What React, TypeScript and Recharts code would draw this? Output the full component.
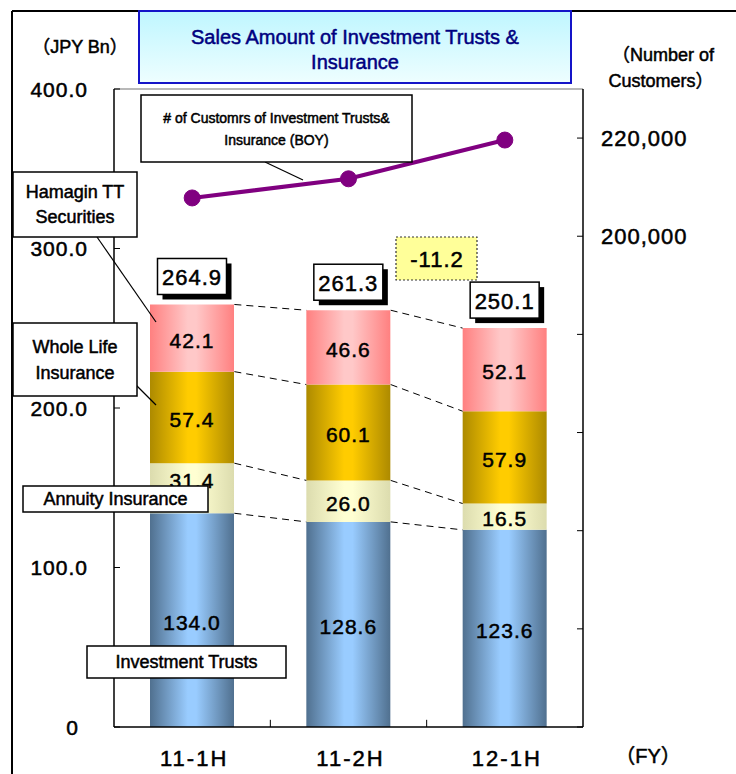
import React from "react";
import {
  ComposedChart,
  Bar,
  Line,
  XAxis,
  YAxis,
  LabelList,
  ReferenceLine,
} from "recharts";

const periods = ["11-1H", "11-2H", "12-1H"];
const investmentTrusts = [134.0, 128.6, 123.6];
const annuityInsurance = [31.4, 26.0, 16.5];
const wholeLifeInsurance = [57.4, 60.1, 57.9];
const hamaginTT = [42.1, 46.6, 52.1];
const customers = [207800, 211700, 219600];

const leftTicks = [0, 100, 200, 300, 400];
const rightTicks = [100000, 120000, 140000, 160000, 180000, 200000, 220000];
const rightLabelled = [200000, 220000];

const FONT = "'Liberation Sans', Arial, 'Noto Sans CJK JP', sans-serif";
const W = 736;
const H = 774;

// label nudges (px) so the first annuity label peeks out above its callout box
const annuityLabelShift = [-10, 0, 0];

const segments = [
  { key: "it", values: investmentTrusts, grad: "gIT", edge: "#50708f", mid: "#99ccff", shift: [0, 0, 0] },
  { key: "ann", values: annuityInsurance, grad: "gAnn", edge: "#dcdcae", mid: "#ffffd2", shift: annuityLabelShift },
  { key: "wl", values: wholeLifeInsurance, grad: "gWL", edge: "#ad8a00", mid: "#ffcc00", shift: [0, 0, 0] },
  { key: "tt", values: hamaginTT, grad: "gTT", edge: "#ff8080", mid: "#ffc8c8", shift: [0, 0, 0] },
];

const data = periods.map((period, i) => {
  const row: any = { period, customers: customers[i] };
  let total = 0;
  segments.forEach((s) => {
    row[s.key] = s.values[i];
    total += s.values[i];
  });
  row.total = Math.round(total * 10) / 10;
  return row;
});

// cumulative heights at each segment boundary, for the dashed connectors
const cumAt = (i: number, b: number) =>
  segments.slice(0, b).reduce((a, s) => a + s.values[i], 0);

const BAR_SIZE = 84;
const halfBar = 0.27; // half of bar width in category units

const connectors = [1, 2, 3, 4].map((b) => [
  { x: 0 + halfBar, y: cumAt(0, b) },
  { x: 1 - halfBar, y: cumAt(1, b) },
  { x: 1, y: null },
  { x: 1 + halfBar, y: cumAt(1, b) },
  { x: 2 - halfBar, y: cumAt(2, b) },
]);

const change = (data[2].total - data[1].total).toFixed(1);

const boldText = { stroke: "currentColor", strokeWidth: 0.5 } as const;

const LeftTick = (props: any) => {
  const { x, y, payload } = props;
  const v = payload.value;
  return (
    <g>
      <line x1={x} x2={x + 6} y1={y} y2={y} stroke="#000" />
      <text
        x={v === 0 ? x - 35 : x - 26}
        y={y}
        textAnchor="end"
        dominantBaseline="central"
        fontSize={21}
        fontFamily={FONT}
        fill="#000"
        color="#000"
        letterSpacing={1}
        {...boldText}
      >
        {v === 0 ? "0" : v.toFixed(1)}
      </text>
    </g>
  );
};

const RightTick = (props: any) => {
  const { x, y, payload } = props;
  const v = payload.value;
  return (
    <g>
      <line x1={x - 6} x2={x} y1={y} y2={y} stroke="#000" />
      {rightLabelled.includes(v) && (
        <text
          x={x + 18}
          y={y}
          dominantBaseline="central"
          fontSize={22}
          fontFamily={FONT}
          fill="#000"
          color="#000"
          letterSpacing={1}
          {...boldText}
        >
          {v.toLocaleString("en-US")}
        </text>
      )}
    </g>
  );
};

const CatTick = (props: any) => {
  const { x, y, payload } = props;
  return (
    <text
      x={x + 2}
      y={y + 23}
      textAnchor="middle"
      dominantBaseline="central"
      fontSize={22}
      fontFamily={FONT}
      fill="#000"
      color="#000"
      letterSpacing={2}
      {...boldText}
    >
      {payload.value}
    </text>
  );
};

const makeValueLabel = (shift: number[]) => (props: any) => {
  const vb = props.viewBox || props;
  const { x, y, width, height } = vb;
  const dy = shift[props.index] || 0;
  return (
    <text
      x={x + width / 2}
      y={y + height / 2 + 2 + dy}
      textAnchor="middle"
      dominantBaseline="central"
      fontSize={21}
      fontFamily={FONT}
      fill="#000"
      color="#000"
      letterSpacing={1}
      {...boldText}
    >
      {Number(props.value).toFixed(1)}
    </text>
  );
};

const TotalBox = (props: any) => {
  const vb = props.viewBox || props;
  const { x, y, width } = vb;
  const cx = x + width / 2;
  const bw = 69;
  const bh = 36;
  const top = y - 10 - bh;
  return (
    <g>
      <rect x={cx - bw / 2 + 5} y={top + 5} width={bw} height={bh} fill="#000" />
      <rect x={cx - bw / 2} y={top} width={bw} height={bh} fill="#fff" stroke="#000" strokeWidth={1.5} />
      <text
        x={cx}
        y={top + bh / 2 + 1}
        textAnchor="middle"
        dominantBaseline="central"
        fontSize={22}
        fontFamily={FONT}
        fill="#000"
        color="#000"
        letterSpacing={1}
        {...boldText}
      >
        {Number(props.value).toFixed(1)}
      </text>
    </g>
  );
};

const Callout = ({
  x,
  y,
  w,
  h,
  lines,
  size = 18,
  lineGap = 25,
}: {
  x: number;
  y: number;
  w: number;
  h: number;
  lines: string[];
  size?: number;
  lineGap?: number;
}) => {
  const cy = y + h / 2 - ((lines.length - 1) * lineGap) / 2;
  return (
    <g>
      <rect x={x} y={y} width={w} height={h} fill="#fff" stroke="#000" strokeWidth={1.5} />
      {lines.map((t, i) => (
        <text
          key={i}
          x={x + w / 2}
          y={cy + i * lineGap}
          textAnchor="middle"
          dominantBaseline="central"
          fontSize={size}
          fontFamily={FONT}
          fill="#000"
          color="#000"
          {...boldText}
        >
          {t}
        </text>
      ))}
    </g>
  );
};

export default function App() {
  return (
    <div style={{ position: "absolute", left: 0, top: 0, width: W, height: H, background: "#fff" }}>
      <ComposedChart
        width={W}
        height={H}
        data={data}
        margin={{ top: 89, right: 0, bottom: 0, left: 0 }}
      >
        <defs>
          {segments.map((s) => (
            <linearGradient key={s.grad} id={s.grad} x1="0" y1="0" x2="1" y2="0">
              <stop offset="0%" stopColor={s.edge} />
              <stop offset="45%" stopColor={s.mid} />
              <stop offset="55%" stopColor={s.mid} />
              <stop offset="100%" stopColor={s.edge} />
            </linearGradient>
          ))}
        </defs>

        <XAxis
          xAxisId="cat"
          dataKey="period"
          height={47}
          tick={<CatTick />}
          tickLine={false}
          axisLine={{ stroke: "#000", strokeWidth: 1.5 }}
        />
        <XAxis
          xAxisId="num"
          dataKey="x"
          type="number"
          domain={[-0.5, 2.5]}
          allowDataOverflow
          hide
        />
        <YAxis
          yAxisId="left"
          width={114}
          domain={[0, 400]}
          ticks={leftTicks}
          tickSize={0}
          tickMargin={0}
          tick={<LeftTick />}
          axisLine={{ stroke: "#000", strokeWidth: 1.5 }}
        />
        <YAxis
          yAxisId="right"
          orientation="right"
          width={153}
          domain={[100000, 230000]}
          ticks={rightTicks}
          tickSize={0}
          tickMargin={0}
          tick={<RightTick />}
          axisLine={{ stroke: "#000", strokeWidth: 1.5 }}
        />

        <ReferenceLine xAxisId="cat" yAxisId="left" y={400} stroke="#a0a0a0" strokeWidth={1.5} />
        {[0.5, 1.5].map((v) => (
          <ReferenceLine
            key={v}
            xAxisId="num"
            yAxisId="left"
            segment={[
              { x: v, y: 0 },
              { x: v, y: 4.5 },
            ]}
            stroke="#000"
          />
        ))}

        {segments.map((s, idx) => {
          const ValueLabel = makeValueLabel(s.shift);
          return (
            <Bar
              key={s.key}
              xAxisId="cat"
              yAxisId="left"
              dataKey={s.key}
              stackId="sales"
              barSize={BAR_SIZE}
              fill={`url(#${s.grad})`}
              isAnimationActive={false}
            >
              <LabelList dataKey={s.key} content={(p: any) => <ValueLabel {...p} />} />
              {idx === segments.length - 1 && <LabelList dataKey="total" content={<TotalBox />} />}
            </Bar>
          );
        })}

        {connectors.map((c, i) => (
          <Line
            key={i}
            xAxisId="num"
            yAxisId="left"
            data={c}
            dataKey="y"
            stroke="#000"
            strokeWidth={1}
            strokeDasharray="7 5"
            dot={false}
            activeDot={false}
            connectNulls={false}
            isAnimationActive={false}
          />
        ))}

        <Line
          xAxisId="cat"
          yAxisId="right"
          dataKey="customers"
          stroke="#800080"
          strokeWidth={4}
          dot={{ r: 8, fill: "#800080", stroke: "#800080", strokeWidth: 1 }}
          activeDot={false}
          isAnimationActive={false}
        />
      </ComposedChart>

      <svg
        width={W}
        height={H}
        style={{ position: "absolute", left: 0, top: 0, pointerEvents: "none" }}
      >
        <defs>
          <linearGradient id="titleGrad" x1="0" y1="0" x2="0" y2="1">
            <stop offset="0%" stopColor="#bff6ff" />
            <stop offset="100%" stopColor="#eefeff" />
          </linearGradient>
        </defs>
        {/* outer frame */}
        <line x1={12} y1={11} x2={W} y2={11} stroke="#000" strokeWidth={2} />
        <line x1={12} y1={11} x2={12} y2={H} stroke="#000" strokeWidth={2} />

        {/* title */}
        <rect x={139} y={11} width={432} height={72} fill="url(#titleGrad)" stroke="#1414c8" strokeWidth={2} />
        {["Sales Amount of Investment Trusts &", "Insurance"].map((t, i) => (
          <text
            key={t}
            x={355}
            y={37 + i * 25}
            textAnchor="middle"
            dominantBaseline="central"
            fontSize={20}
            fontFamily={FONT}
            fill="#000080"
            color="#000080"
            {...boldText}
          >
            {t}
          </text>
        ))}

        {/* axis titles */}
        <text x={80} y={47} textAnchor="middle" dominantBaseline="central" fontSize={18} fontFamily={FONT} fill="#000" color="#000" {...boldText}>
          （JPY Bn）
        </text>
        <text x={663} y={55} textAnchor="middle" dominantBaseline="central" fontSize={18} fontFamily={FONT} fill="#000" color="#000" {...boldText}>
          （Number of
        </text>
        <text x={661} y={81} textAnchor="middle" dominantBaseline="central" fontSize={18} fontFamily={FONT} fill="#000" color="#000" {...boldText}>
          Customers）
        </text>
        <text x={648} y={756} textAnchor="middle" dominantBaseline="central" fontSize={20} fontFamily={FONT} fill="#000" color="#000" {...boldText}>
          （FY）
        </text>

        {/* leader lines */}
        <line x1={265} y1={162} x2={303} y2={180} stroke="#000" strokeWidth={1.2} />
        <line x1={97} y1={237} x2={156} y2={322} stroke="#000" strokeWidth={1.2} />
        <line x1={126} y1={375} x2={156} y2={405} stroke="#000" strokeWidth={1.2} />

        {/* callouts */}
        <Callout x={141} y={95} w={271} h={67} lines={["# of Customrs of Investment Trusts&", "Insurance (BOY)"]} size={14} lineGap={22} />
        <Callout x={13} y={172} w={124} h={65} lines={["Hamagin TT", "Securities"]} />
        <Callout x={13} y={323} w={124} h={73} lines={["Whole Life", "Insurance"]} lineGap={26} />
        <Callout x={23} y={486} w={185} h={26} lines={["Annuity Insurance"]} />
        <Callout x={87} y={646} w={199} h={32} lines={["Investment Trusts"]} />

        {/* change between 11-2H and 12-1H */}
        <rect x={396} y={237} width={81} height={43} fill="#ffff99" stroke="#333" strokeWidth={1.2} strokeDasharray="2 2" />
        <text x={437} y={259} textAnchor="middle" dominantBaseline="central" fontSize={22} fontFamily={FONT} fill="#000" color="#000" letterSpacing={1} {...boldText}>
          {change}
        </text>
      </svg>
    </div>
  );
}
